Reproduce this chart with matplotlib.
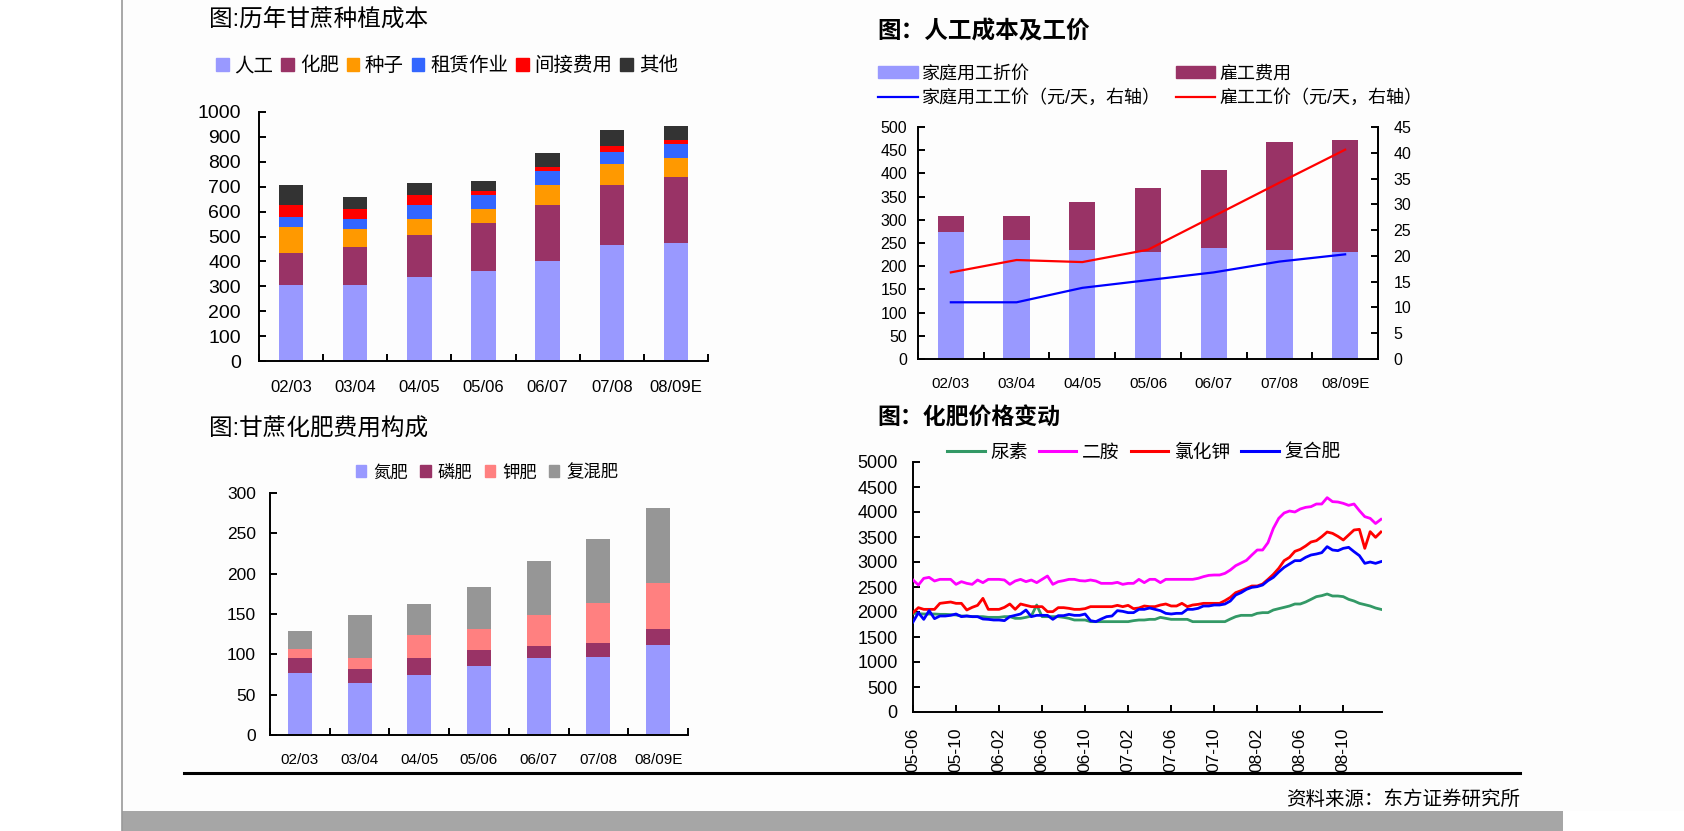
import numpy as np
import matplotlib
matplotlib.use('Agg')
import matplotlib.pyplot as plt
from matplotlib.patches import Patch, Rectangle
from matplotlib.lines import Line2D

plt.rcParams['font.family'] = ['Liberation Sans', 'Noto Sans CJK SC']

W, H = 1684, 831

# ---------------- data ----------------
seasons = ['02/03', '03/04', '04/05', '05/06', '06/07', '07/08', '08/09E']

# panel 1: planting cost
cost_labor = [305, 305, 337, 362, 402, 465, 473]
cost_fert = [128, 152, 168, 192, 224, 240, 264]
cost_seed = [104, 72, 64, 56, 80, 88, 80]
cost_lease = [40, 40, 56, 56, 56, 48, 56]
cost_indirect = [48, 40, 40, 16, 16, 24, 16]
cost_other = [80, 48, 48, 40, 56, 64, 56]
cost_names = ['人工', '化肥', '种子', '租赁作业', '间接费用', '其他']

# panel 2: labour cost and wages
family_labor = [273, 256, 234, 230, 239, 234, 230]
hired_labor = [35, 52, 104, 139, 169, 234, 243]
family_wage = [11.0, 11.0, 13.8, 15.3, 16.8, 18.9, 20.3]
hired_wage = [16.8, 19.2, 18.8, 21.2, 27.7, 34.2, 40.6]

# panel 3: fertilizer cost composition
n_fert = [77, 65, 75, 85, 95, 97, 112]
p_fert = [18, 17, 20, 20, 15, 17, 20]
k_fert = [12, 13, 29, 27, 39, 50, 57]
mix_fert = [22, 54, 38, 52, 67, 79, 92]
fert_names = ['氮肥', '磷肥', '钾肥', '复混肥']

# panel 4: fertilizer prices, semi-monthly from 2005-06
price_ticks = ['05-06', '05-10', '06-02', '06-06', '06-10', '07-02',
               '07-06', '07-10', '08-02', '08-06', '08-10']
urea = [1973, 1967, 1960, 1960, 1960, 1953, 1953, 1947, 1940, 1920, 1920, 1907,
        1907, 1907, 1893, 1893, 1893, 1907, 1907, 1873, 1873, 1893, 1920, 2140,
        1907, 1907, 1907, 1907, 1893, 1873, 1840, 1840, 1840, 1807, 1807, 1807,
        1807, 1807, 1807, 1807, 1807, 1827, 1840, 1840,
        1853, 1853, 1893, 1873, 1853, 1853, 1853, 1853, 1807, 1807, 1807, 1807,
        1807, 1807, 1807, 1860, 1907, 1933, 1933, 1933, 1973, 1987, 1987, 2040,
        2067, 2093, 2120, 2160, 2160, 2200, 2253, 2307, 2327, 2360, 2320, 2320,
        2307, 2253, 2220, 2173, 2147, 2120, 2080, 2053]
dap = [2640, 2540, 2673, 2693, 2620, 2653, 2653, 2653, 2553, 2607, 2573, 2553,
       2640, 2587, 2653, 2653, 2653, 2640, 2553, 2620, 2653, 2607, 2640, 2587,
       2653, 2720, 2553, 2607, 2627, 2653, 2653, 2627, 2620, 2640, 2620, 2573,
       2573, 2573, 2593, 2553, 2573, 2573, 2653, 2587,
       2653, 2653, 2587, 2653, 2653, 2653, 2653, 2653, 2653, 2673, 2707, 2733,
       2740, 2740, 2773, 2840, 2927, 2980, 3033, 3140, 3240, 3240, 3387, 3673,
       3873, 3980, 4020, 4000, 4060, 4093, 4107, 4160, 4160, 4287, 4207, 4200,
       4173, 4133, 4160, 4027, 3907, 3873, 3770, 3853]
kcl = [1987, 2087, 2053, 2053, 2053, 2173, 2187, 2200, 2173, 2173, 2040, 2093,
       2133, 2273, 2053, 2053, 2053, 2093, 2160, 2053, 2160, 2133, 2107, 2107,
       2107, 2007, 2007, 2087, 2087, 2073, 2053, 2053, 2067, 2107, 2107, 2107,
       2107, 2107, 2133, 2107, 2133, 2067, 2080, 2120,
       2107, 2107, 2140, 2160, 2120, 2120, 2173, 2107, 2140, 2153, 2173, 2173,
       2173, 2173, 2227, 2293, 2387, 2427, 2473, 2520, 2520, 2560, 2653, 2753,
       2873, 3027, 3093, 3213, 3253, 3320, 3400, 3427, 3507, 3600, 3573, 3513,
       3440, 3540, 3640, 3653, 3273, 3607, 3493, 3600]
compound = [1800, 1987, 1853, 2027, 1867, 1920, 1920, 1933, 1960, 1907, 1920, 1907,
            1907, 1860, 1853, 1840, 1840, 1827, 1907, 1933, 1960, 2040, 1907, 1933,
            1933, 1933, 1853, 1927, 1927, 1953, 1933, 1933, 1960, 1827, 1807, 1860,
            1907, 1920, 2027, 2013, 1987, 1987, 2053, 2053,
            2080, 2053, 2027, 1973, 1960, 1973, 1973, 2053, 2053, 2073, 2120, 2120,
            2140, 2140, 2160, 2220, 2340, 2387, 2453, 2493, 2507, 2540, 2627, 2693,
            2800, 2893, 2960, 3027, 3027, 3093, 3140, 3160, 3187, 3307, 3240, 3227,
            3273, 3293, 3207, 3127, 2973, 3000, 2973, 3007]
price_names = ['尿素', '二胺', '氯化钾', '复合肥']

# ---------------- styles ----------------
C_LAV = '#9999FF'
C_PLUM = '#993366'
cost_colors = [C_LAV, C_PLUM, '#FF9900', '#3366FF', '#FF0000', '#333333']
fert_colors = [C_LAV, C_PLUM, '#FF8080', '#969696']
price_colors = ['#339966', '#FF00FF', '#FF0000', '#0000FF']

fig = plt.figure(figsize=(W / 100, H / 100), dpi=100)
fig.patch.set_facecolor('#FDFDFD')


def px_axes(l, t, r, b):
    return fig.add_axes([l / W, 1 - b / H, (r - l) / W, (b - t) / H])


def style(ax, right=False):
    for s in ['top', 'right']:
        ax.spines[s].set_visible(False)
    if right:
        ax.spines['right'].set_visible(True)
    for s in ax.spines.values():
        s.set_linewidth(1.4)
        s.set_color('black')
    ax.set_facecolor('none')


def cat_axis(ax, fs, pad):
    n = len(seasons)
    ax.set_xlim(-0.5, n - 0.5)
    ax.set_xticks(np.arange(-0.5, n, 1.0))
    ax.set_xticklabels([])
    ax.set_xticks(np.arange(n), minor=True)
    ax.set_xticklabels(seasons, minor=True, fontsize=fs)
    ax.tick_params(axis='x', which='major', direction='in', length=5, width=1.4)
    ax.tick_params(axis='x', which='minor', length=0, pad=pad)


def fig_legend(ax, handles, labels, x, y, fs, **kw):
    leg = ax.legend(handles, labels, loc='center left',
                    bbox_to_anchor=(x / W, 1 - y / H), bbox_transform=fig.transFigure,
                    frameon=False, fontsize=fs, borderpad=0, borderaxespad=0, **kw)
    return leg


def stacked(ax, series, colors, width):
    x = np.arange(len(seasons))
    bottom = np.zeros(len(seasons))
    for vals, c in zip(series, colors):
        ax.bar(x, vals, width, bottom=bottom, color=c, linewidth=0, zorder=2)
        bottom = bottom + np.array(vals)


# ---------------- panel 1 ----------------
ax1 = px_axes(259, 112, 708, 361)
style(ax1)
stacked(ax1, [cost_labor, cost_fert, cost_seed, cost_lease, cost_indirect, cost_other],
        cost_colors, 0.38)
ax1.set_ylim(0, 1000)
ax1.set_yticks(np.arange(0, 1001, 100))
ax1.tick_params(axis='y', direction='in', length=5, width=1.4, labelsize=14, pad=13)
cat_axis(ax1, 12, 14)
fig.text(209 / W, 1 - 21 / H, '图:历年甘蔗种植成本', fontsize=17, va='center', ha='left')
fig_legend(ax1, [Patch(color=c) for c in cost_colors], cost_names, 216, 66, 14,
           ncol=6, handlelength=0.65, handleheight=0.65, handletextpad=0.3,
           columnspacing=0.4)

# ---------------- panel 2 ----------------
ax2 = px_axes(918, 127, 1378, 359)
style(ax2, right=True)
x = np.arange(len(seasons))
ax2.bar(x, family_labor, 0.4, color=C_LAV, linewidth=0, zorder=2)
ax2.bar(x, hired_labor, 0.4, bottom=family_labor, color=C_PLUM, linewidth=0, zorder=2)
ax2.set_ylim(0, 500)
ax2.set_yticks(np.arange(0, 501, 50))
ax2.tick_params(axis='y', direction='in', length=5, width=1.4, labelsize=11.5, pad=8)
cat_axis(ax2, 11, 13)
ax2r = ax2.twinx()
for s in ['top', 'left', 'bottom']:
    ax2r.spines[s].set_visible(False)
ax2r.spines['right'].set_linewidth(1.4)
ax2r.plot(x, family_wage, color='#0000FF', lw=1.6, zorder=3)
ax2r.plot(x, hired_wage, color='#FF0000', lw=1.6, zorder=3)
ax2r.set_ylim(0, 45)
ax2r.set_yticks(np.arange(0, 46, 5))
ax2r.tick_params(axis='y', direction='in', length=5, width=1.4, labelsize=11.5, pad=11)
fig.text(877 / W, 1 - 32 / H, '图：人工成本及工价', fontsize=17, va='center', ha='left',
         fontweight='bold')
h2 = [Patch(color=C_LAV), Line2D([], [], color='#0000FF', lw=1.6),
      Patch(color=C_PLUM), Line2D([], [], color='#FF0000', lw=1.6)]
l2 = ['家庭用工折价', '家庭用工工价（元/天，右轴）', '雇工费用', '雇工工价（元/天，右轴）']
fig_legend(ax2r, h2, l2, 878, 86, 13, ncol=2, handlelength=2.2, handleheight=0.6,
           handletextpad=0.25, columnspacing=0.8, labelspacing=0.35)

# ---------------- panel 3 ----------------
ax3 = px_axes(270, 493, 688, 735)
style(ax3)
stacked(ax3, [n_fert, p_fert, k_fert, mix_fert], fert_colors, 0.4)
ax3.set_ylim(0, 300)
ax3.set_yticks(np.arange(0, 301, 50))
ax3.tick_params(axis='y', direction='in', length=5, width=1.4, labelsize=12.5, pad=10)
cat_axis(ax3, 11, 13)
fig.text(209 / W, 1 - 430 / H, '图:甘蔗化肥费用构成', fontsize=17, va='center', ha='left')
fig_legend(ax3, [Patch(color=c) for c in fert_colors], fert_names, 356, 472, 12.5,
           ncol=4, handlelength=0.6, handleheight=0.7, handletextpad=0.4,
           columnspacing=0.7)

# ---------------- panel 4 ----------------
ax4 = px_axes(913, 462, 1382, 712)
style(ax4)
t = np.arange(len(urea)) * 0.5
for vals, c in zip([urea, dap, kcl, compound], price_colors):
    ax4.plot(t, vals, color=c, lw=2.0, zorder=3)
ax4.set_ylim(0, 5000)
ax4.set_xlim(0, 43.6)
ax4.set_yticks(np.arange(0, 5001, 500))
ax4.set_xticks(np.arange(0, 41, 4))
ax4.set_xticklabels(price_ticks, rotation=90, fontsize=12.5)
ax4.tick_params(axis='y', direction='in', length=5, width=1.4, labelsize=13, pad=11)
ax4.tick_params(axis='x', direction='in', length=5, width=1.4, pad=11.5)
fig.text(877 / W, 1 - 418 / H, '图：化肥价格变动', fontsize=16.5, va='center', ha='left',
         fontweight='bold')
fig_legend(ax4, [Line2D([], [], color=c, lw=2.2) for c in price_colors], price_names,
           947, 453, 13.5, ncol=4, handlelength=2.0, handletextpad=0.3,
           columnspacing=0.6)

# ---------------- frame decorations ----------------
fig.add_artist(Line2D([122 / W, 122 / W], [0, 1], color='#999999', lw=1.2,
                      transform=fig.transFigure))
fig.add_artist(Rectangle((0, 0), 122 / W, 1, transform=fig.transFigure,
                         facecolor='white', edgecolor='none', zorder=-5))
fig.add_artist(Rectangle((122 / W, 0), (1563 - 122) / W, 20 / H,
                         transform=fig.transFigure, facecolor='#A6A6A6',
                         edgecolor='none'))
fig.add_artist(Rectangle((1563 / W, 0), (W - 1563) / W, 20 / H,
                         transform=fig.transFigure, facecolor='white',
                         edgecolor='none'))
fig.add_artist(Line2D([184 / W, 1520 / W], [1 - 773 / H, 1 - 773 / H], color='black',
                      lw=2.2, transform=fig.transFigure, zorder=10))
fig.text(1520 / W, 1 - 800 / H, '资料来源：东方证券研究所', fontsize=14,
         ha='right', va='center')

fig.savefig('out.png', dpi=100, facecolor=fig.get_facecolor())
